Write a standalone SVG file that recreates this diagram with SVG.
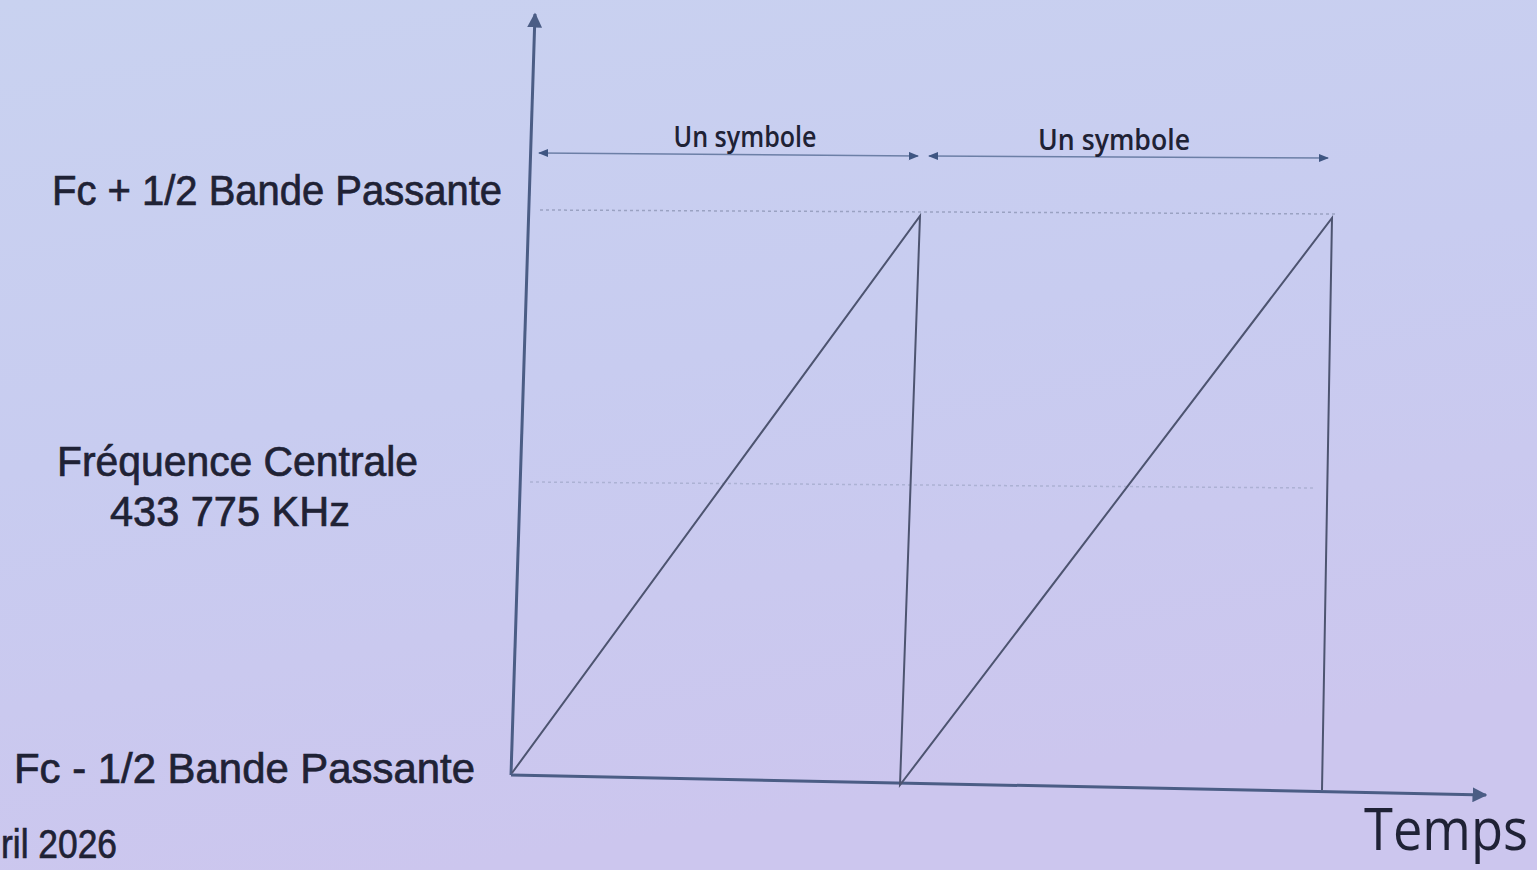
<svg xmlns="http://www.w3.org/2000/svg" width="1537" height="870" viewBox="0 0 1537 870">
<defs>
<linearGradient id="bg" x1="0" y1="0" x2="0.3" y2="1">
<stop offset="0" stop-color="#c9d2f0"/>
<stop offset="0.5" stop-color="#c8ccf0"/>
<stop offset="1" stop-color="#ccc6ee"/>
</linearGradient>
<marker id="axh" viewBox="0 0 10 10" refX="9" refY="5" markerWidth="5" markerHeight="5" orient="auto" markerUnits="strokeWidth">
<path d="M0,0 L10,5 L0,10 z" fill="#4b5d85"/>
</marker>
<marker id="dh" viewBox="0 0 10 10" refX="9" refY="5" markerWidth="7" markerHeight="7" orient="auto-start-reverse" markerUnits="strokeWidth">
<path d="M0,1 L10,5 L0,9 z" fill="#3f5682"/>
</marker>
</defs>
<style>
.lbl{font-family:"Liberation Sans",Arial,sans-serif;fill:#1f2235;stroke:#1f2235;stroke-width:0.7}
.sym{font-family:"Open Sans","Liberation Sans",sans-serif;fill:#1f2235;font-size:29px;font-weight:600}
.tmp{font-family:"Open Sans","Liberation Sans",sans-serif;fill:#1f2235;font-size:58px}
.ax{stroke:#4b5d85;stroke-width:3;fill:none}
.sig{stroke:#4d5470;stroke-width:2;fill:none}
.grid{stroke:#9aa2c2;stroke-width:1.5;stroke-dasharray:3 3;fill:none}
.dim{stroke:#6c7fa6;stroke-width:1.5;fill:none}
</style>
<rect width="1537" height="870" fill="url(#bg)"/>
<g id="grid">
<path class="grid" d="M540,210 L1335,214"/>
<path class="grid" d="M530,482 L1315,488" opacity="0.6"/>
</g>
<g id="axes">
<path class="ax" d="M511,775 L535,14" marker-end="url(#axh)"/>
<path class="ax" d="M511,775 L1486,795" marker-end="url(#axh)"/>
</g>
<g id="connectors">
<path class="dim" d="M539,153 L918,156" marker-start="url(#dh)" marker-end="url(#dh)"/>
<path class="dim" d="M929,156 L1328,158" marker-start="url(#dh)" marker-end="url(#dh)"/>
</g>
<g id="signal">
<path class="sig" d="M512,773 L920,216 L900,785 L1332,218 L1322,790"/>
</g>
<g id="labels">
<text class="sym" x="745" y="147" text-anchor="middle" textLength="143" lengthAdjust="spacingAndGlyphs">Un symbole</text>
<text class="sym" x="1114" y="150" text-anchor="middle" textLength="152" lengthAdjust="spacingAndGlyphs">Un symbole</text>
<text class="lbl" x="52" y="205" font-size="42" textLength="450" lengthAdjust="spacingAndGlyphs">Fc + 1/2 Bande Passante</text>
<text class="lbl" x="57" y="476" font-size="42" textLength="361" lengthAdjust="spacingAndGlyphs">Fréquence Centrale</text>
<text class="lbl" x="110" y="526" font-size="42" textLength="240" lengthAdjust="spacingAndGlyphs">433 775 KHz</text>
<text class="lbl" x="14" y="783" font-size="42" textLength="461" lengthAdjust="spacingAndGlyphs">Fc - 1/2 Bande Passante</text>
<text class="lbl" x="1" y="858" font-size="40" textLength="116" lengthAdjust="spacingAndGlyphs">ril 2026</text>
<text class="tmp" x="1364" y="850" textLength="164" lengthAdjust="spacingAndGlyphs">Temps</text>
</g>
</svg>
